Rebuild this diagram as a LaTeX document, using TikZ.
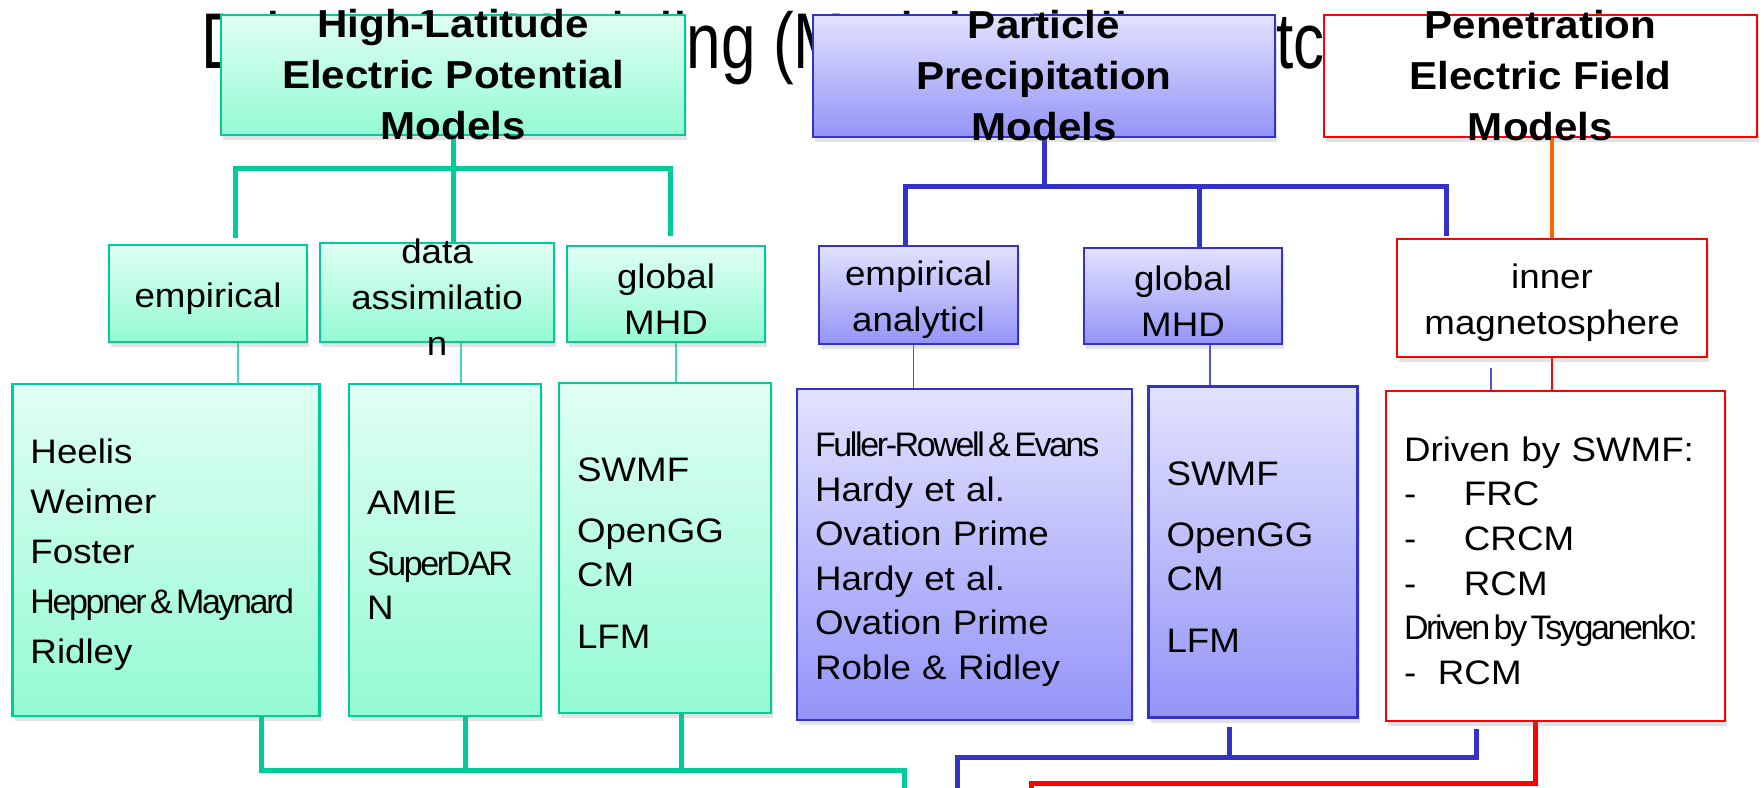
\documentclass[tikz,border=0pt]{standalone}
\usepackage{fontspec}
\setmainfont{Liberation Sans}[FakeStretch=1.08]
\newfontfamily\narrowfont{Liberation Sans}[FakeStretch=1.0, LetterSpace=-7]
\newfontfamily\titlefont{Liberation Sans}[FakeStretch=0.785]
\newcommand{\tightline}[1]{\mbox{\narrowfont\spaceskip=0.1em\relax #1}}
\usepackage{tikz}
\usetikzlibrary{shadows}
\definecolor{hlgreen}{HTML}{00CC99}
\definecolor{hltop}{HTML}{E0FFF3}
\definecolor{hlbot}{HTML}{94FAD4}
\definecolor{ppblue}{HTML}{3333CC}
\definecolor{pptop}{HTML}{E2E2FE}
\definecolor{ppbot}{HTML}{9494F8}
\definecolor{pered}{HTML}{FF0000}
\definecolor{peorange}{HTML}{FF6600}

\pgfdeclarelayer{back}
\pgfdeclarelayer{edges}
\pgfsetlayers{back,edges,main}

\tikzset{
    boxshadow/.style={drop shadow={opacity=0.22, shadow xshift=2pt, shadow yshift=-5pt}},
    hlbox/.style={draw=hlgreen, line width=2.5pt, top color=hltop, bottom color=hlbot, inner sep=0pt, boxshadow},
    ppbox/.style={draw=ppblue, line width=2.5pt, top color=pptop, bottom color=ppbot, inner sep=0pt, boxshadow},
    pebox/.style={draw=pered, line width=2.5pt, fill=white, inner sep=0pt, boxshadow},
    headtext/.style={font=\fontsize{39}{51}\selectfont\bfseries, align=center},
    midtext/.style={font=\fontsize{34}{46}\selectfont, align=center, yshift=-5pt},
    listtext/.style={font=\fontsize{34}{44.6}\selectfont, align=left, inner xsep=18pt, text width=#1,
                     execute at begin node={\rule{0pt}{34pt}}},
    gtree/.style={hlgreen, line width=5pt},
    btree/.style={ppblue, line width=5pt},
    rtree/.style={pered, line width=5pt},
    oline/.style={peorange, line width=4pt},
    gthin/.style={hlgreen!75, line width=1.2pt},
    bthin/.style={ppblue!85, line width=1.2pt},
    rthin/.style={pered, line width=1.2pt},
}

\begin{document}
\begin{tikzpicture}[x=1pt, y=-1pt]
    \useasboundingbox (0,0) rectangle (1764,787);
    \begin{pgfonlayer}{back}
        \fill[white] (0,0) rectangle (1764,787);
    \end{pgfonlayer}

    \node[font=\fontsize{79}{79}\titlefont, inner sep=0pt, anchor=base west] (title) at (201,68)
        {Drivers for Modeling (Models, Indices etc.};

    % model families
    \node[hlbox, minimum width=464pt, minimum height=120pt,
          label={[headtext]center:High-Latitude\\Electric Potential\\Models}] (hl) at (453,75) {};
    \node[ppbox, minimum width=462pt, minimum height=122pt,
          label={[headtext]center:Particle\\Precipitation\\Models}] (pp) at (1044,76) {};
    \node[pebox, minimum width=433pt, minimum height=122pt,
          label={[headtext]center:Penetration\\Electric Field\\Models}] (pe) at (1540.5,76) {};

    % model types
    \node[hlbox, minimum width=198pt, minimum height=97pt, label={[midtext]center:empirical}] (emp) at (208,293.5) {};
    \node[hlbox, minimum width=234pt, minimum height=99pt, label={[midtext]center:data\\assimilatio\\n}] (dat) at (437,292.5) {};
    \node[hlbox, minimum width=198pt, minimum height=96pt, label={[midtext]center:global\\MHD}] (gmh) at (666,294) {};
    \node[ppbox, minimum width=199pt, minimum height=98pt, label={[midtext]center:empirical\\analyticl}] (ea) at (918.5,295) {};
    \node[ppbox, minimum width=198pt, minimum height=96pt, label={[midtext]center:global\\MHD}] (gmp) at (1183,296) {};
    \node[pebox, minimum width=310pt, minimum height=118pt, label={[midtext]center:inner\\magnetosphere}] (im) at (1552,298) {};

    % model lists
    \node[hlbox, listtext=271pt, minimum width=307pt, minimum height=332pt, font=\fontsize{34}{50}\selectfont] (heelis) at (166,550)
        {Heelis\\Weimer\\Foster\\\tightline{Heppner \& Maynard}\\Ridley};
    \node[hlbox, listtext=156pt, minimum width=192pt, minimum height=332pt] (amie) at (445,550)
        {AMIE\\[16pt]\tightline{SuperDAR}\\N};
    \node[hlbox, listtext=176pt, minimum width=212pt, minimum height=330pt] (swmfh) at (665,548)
        {SWMF\\[16pt]OpenGG\\CM\\[17pt]LFM};
    \node[ppbox, listtext=299pt, minimum width=335pt, minimum height=331pt] (fuller) at (964.5,554.5)
        {\tightline{Fuller-Rowell \& Evans}\\Hardy et al.\\Ovation Prime\\Hardy et al.\\Ovation Prime\\Roble \& Ridley};
    \node[ppbox, listtext=173pt, minimum width=209pt, minimum height=331pt] (swmfp) at (1253,552)
        {SWMF\\[16pt]OpenGG\\CM\\[17pt]LFM};
    \node[pebox, listtext=303pt, minimum width=339pt, minimum height=330pt] (driven) at (1555.5,556)
        {Driven by SWMF:\\\makebox[60pt][l]{-}FRC\\\makebox[60pt][l]{-}CRCM\\\makebox[60pt][l]{-}RCM\\
         \tightline{Driven by Tsyganenko:}\\\makebox[34pt][l]{-}RCM};

    \coordinate (gout) at (904,795);
    \coordinate (bout) at (957,795);
    \coordinate (rout) at (1031,795);

    \begin{pgfonlayer}{edges}
        % family to type
        \draw[gtree] (hl.south) -- (hl.south |- dat.north);
        \draw[gtree] ([xshift=27pt, yshift=6pt]emp.north) -- ++(0,-69) -| ([xshift=4pt, yshift=9pt]gmh.north);
        \draw[btree] (pp.south) -- ++(0,51);
        \draw[btree] ([xshift=-13pt]ea.north) -- ++(0,-58) -| ([xshift=-106pt, yshift=2pt]im.north);
        \draw[btree] ([xshift=16pt]gmp.north) -- ++(0,-60);
        \draw[oline] (pe.south -| im.north) -- (im.north);
        % type to list
        \draw[gthin] ([xshift=30pt]emp.south) -- ++(0,41);
        \draw[gthin] ([xshift=24pt]dat.south) -- ++(0,42);
        \draw[gthin] ([xshift=10pt]gmh.south) -- ++(0,41);
        \draw[bthin] ([xshift=-5pt]ea.south) -- ++(0,45);
        \draw[bthin] ([xshift=27pt]gmp.south) -- ++(0,42);
        \draw[bthin] ([xshift=-61pt, yshift=-10pt]im.south) -- ++(0,24);
        \draw[rthin] (im.south) -- ++(0,34);
        % list to output
        \draw[gtree] ([xshift=95pt]heelis.south) |- (gout |- 0,770) -- (gout);
        \draw[gtree] ([xshift=20pt]amie.south) -- ++(0,54);
        \draw[gtree] ([xshift=16pt]swmfh.south) -- ++(0,57);
        \draw[btree] ([xshift=-79pt, yshift=-7pt]driven.south) |- (bout |- 0,757) -- (bout);
        \draw[btree] ([xshift=-24pt, yshift=-8pt]swmfp.south) -- ++(0,31);
        \draw[rtree] ([xshift=-20pt]driven.south) |- (rout |- 0,783) -- (rout);
    \end{pgfonlayer}
\end{tikzpicture}
\end{document}
